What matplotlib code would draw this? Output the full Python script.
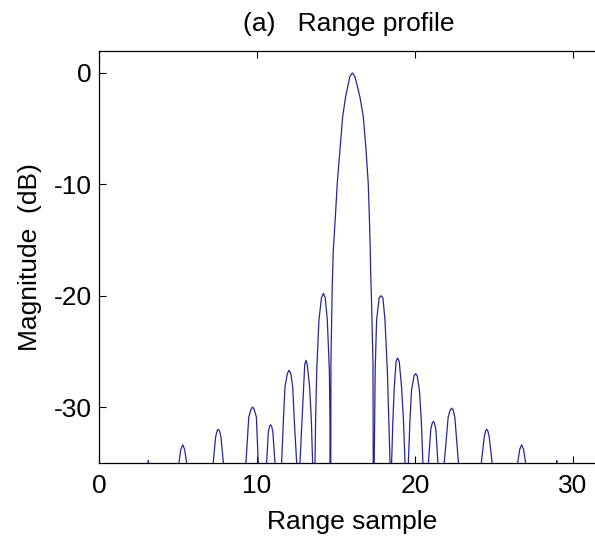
import matplotlib
matplotlib.use("Agg")
import matplotlib.pyplot as plt

plt.rcParams['font.family'] = ['Liberation Sans', 'DejaVu Sans']
plt.rcParams['axes.unicode_minus'] = False

# Curve points (values below -35 dB are clipped by the axes)
range_sample = [
    0.0,
    3.00, 3.12, 3.25,
    5.00, 5.06, 5.18, 5.30, 5.42, 5.54, 5.60,
    7.15, 7.23, 7.38, 7.47, 7.55, 7.63, 7.72, 7.87, 7.95,
    9.20, 9.30, 9.48, 9.62, 9.72, 9.82, 9.96, 10.08, 10.30,
    10.61, 10.72, 10.80, 10.86, 10.92, 11.00, 11.14, 11.35,
    11.56, 11.67, 11.77, 11.92, 12.03, 12.14, 12.26, 12.36, 12.51, 12.62,
    12.72, 12.85, 12.95, 13.02, 13.10, 13.18, 13.33, 13.44, 13.52, 13.60,
    13.67, 13.71, 13.78, 13.92, 14.08, 14.20, 14.32, 14.45, 14.58, 14.62, 14.63,
    14.64, 14.68, 14.75, 14.79, 14.83, 14.96, 15.08, 15.25, 15.42, 15.60, 15.78, 15.88, 16.03,
    16.19, 16.31, 16.52, 16.73, 16.90, 17.04, 17.11, 17.17, 17.19, 17.24, 17.34, 17.40,
    17.41, 17.42, 17.48, 17.57, 17.73, 17.85, 17.97, 18.10, 18.25, 18.42, 18.47,
    18.52, 18.60, 18.69, 18.80, 18.90, 19.00, 19.15, 19.27, 19.37, 19.47,
    19.58, 19.68, 19.78, 19.94, 20.04, 20.14, 20.28, 20.40, 20.50, 20.60,
    20.75, 20.85, 21.00, 21.09, 21.16, 21.23, 21.32, 21.45, 21.60,
    21.75, 21.85, 22.10, 22.22, 22.32, 22.42, 22.52, 22.75, 22.85,
    24.10, 24.20, 24.38, 24.47, 24.54, 24.61, 24.70, 24.88, 24.95,
    26.40, 26.50, 26.63, 26.75, 26.87, 27.00, 27.10,
    28.85, 28.97, 29.10,
    31.50,
]
magnitude_db = [
    -60,
    -60, -34.8, -60,
    -60, -35.0, -33.8, -33.4, -33.8, -35.0, -60,
    -60, -35.0, -32.7, -32.15, -32.0, -32.15, -32.7, -35.0, -60,
    -60, -35.0, -30.9, -30.2, -30.0, -30.2, -30.9, -35.0, -60,
    -35.0, -32.2, -31.7, -31.6, -31.7, -32.2, -35.0, -60,
    -35.0, -31.2, -28.2, -27.0, -26.7, -27.0, -28.2, -31.2, -35.0, -60,
    -35.0, -31.2, -28.2, -26.2, -25.8, -26.2, -28.2, -31.2, -35.0, -60,
    -35.0, -31.2, -26.7, -22.2, -20.2, -19.8, -20.2, -22.2, -26.7, -31.2, -60,
    -60, -26.0, -20.0, -17.7, -15.9, -12.9, -9.9, -6.9, -3.95, -2.2, -0.95, -0.3, 0.0,
    -0.3, -0.95, -2.2, -3.95, -6.9, -9.9, -12.9, -15.9, -17.7, -20.0, -26.0, -60,
    -60, -35.0, -26.7, -22.2, -20.2, -20.0, -20.2, -22.2, -26.7, -35.0, -60,
    -35.0, -31.2, -28.2, -25.9, -25.6, -25.9, -28.2, -31.2, -35.0, -60,
    -35.0, -31.2, -28.5, -27.2, -27.0, -27.2, -28.5, -31.2, -35.0, -60,
    -60, -35.0, -32.0, -31.45, -31.3, -31.45, -32.0, -35.0, -60,
    -60, -35.0, -30.9, -30.3, -30.1, -30.3, -30.9, -35.0, -60,
    -60, -35.0, -32.7, -32.15, -32.0, -32.15, -32.7, -35.0, -60,
    -60, -35.0, -33.8, -33.4, -33.8, -35.0, -60,
    -60, -34.8, -60,
    -60,
]

x_ticks = [0, 10, 20, 30]
y_ticks = [0, -10, -20, -30]

fig = plt.figure(figsize=(5.95, 5.41), dpi=100)
W, H = 595, 541
left, right, top, bottom = 99, 604.6, 50.7, 462.7
ax = fig.add_axes([left / W, 1 - bottom / H, (right - left) / W, (bottom - top) / H])

ax.plot(range_sample, magnitude_db, color='#26269a', lw=0.9)
ax.set_xlim(0, 32)
ax.set_ylim(-35, 2)
ax.set_xticks(x_ticks)
ax.set_yticks(y_ticks)
ax.tick_params(direction='in', length=5, width=0.8, labelsize=19, top=True, right=True)
ax.tick_params(axis='x', pad=8)
ax.tick_params(axis='y', pad=5)
for s in ax.spines.values():
    s.set_linewidth(0.9)

ax_w, ax_h = right - left, bottom - top
ax.set_xlabel('Range sample', fontsize=19)
ax.xaxis.set_label_coords(0.5, -(510 - bottom) / ax_h)
ax.set_ylabel('Magnitude  (dB)', fontsize=19)
ax.yaxis.set_label_coords(-(99 - 42) / ax_w, 0.5)
fig.text(349 / W, 1 - 24 / H, '(a)   Range profile', fontsize=19, ha='center', va='center')

fig.savefig('out.png', dpi=100)
